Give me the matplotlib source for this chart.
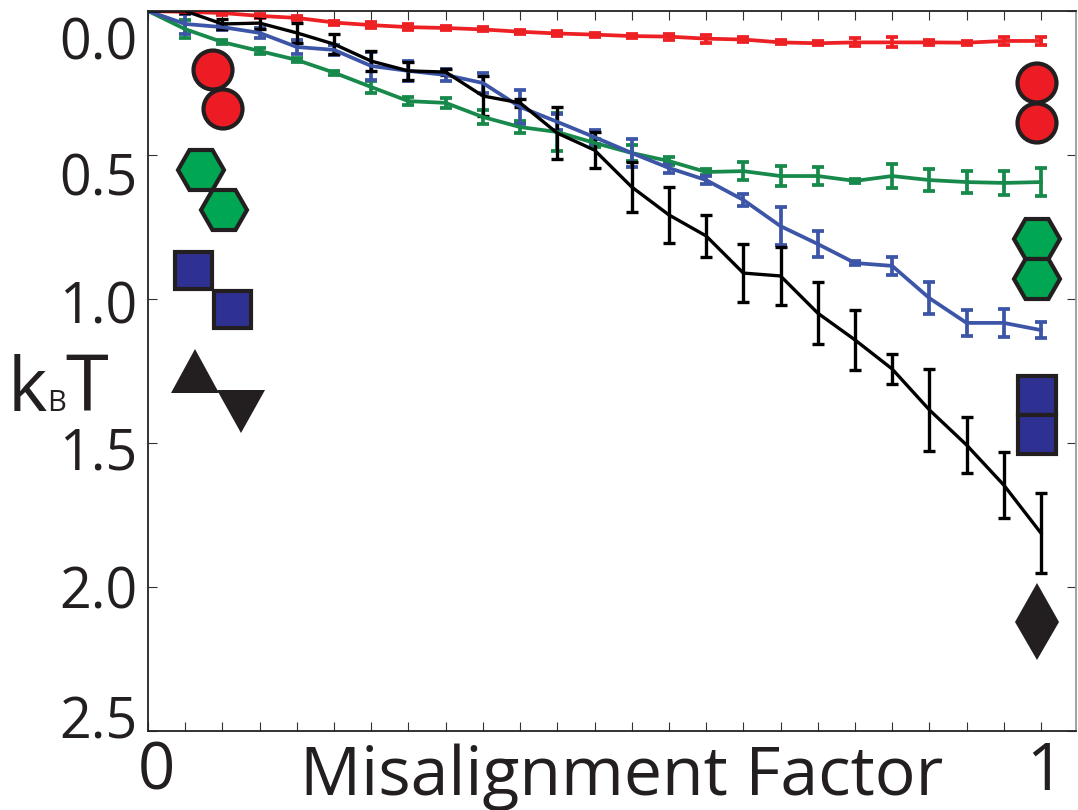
import numpy as np
import matplotlib
matplotlib.use("Agg")
import matplotlib.pyplot as plt
from matplotlib.patches import Circle, Polygon, Rectangle
from matplotlib.transforms import Affine2D, ScaledTranslation

FONT = "Open Sans"
plt.rcParams["font.family"] = FONT
INK = "#231f20"

factor = np.arange(25) / 24
red = [0, .003, .007, .017, .024, .04, .049, .056, .059, .064, .072, .078, .082, .087, .089, .096, .099, .109, .112, .109, .109, .109, .110, .104, .104]
red_err = [0, .007, .007, .007, .007, .007, .01, .01, .007, .007, .007, .01, .007, .007, .01, .014, .007, .007, .007, .014, .017, .01, .007, .014, .014]
green = [0, .063, .108, .139, .170, .214, .264, .313, .319, .368, .403, .420, .458, .493, .521, .559, .556, .573, .573, .590, .573, .587, .594, .597, .594]
green_err = [0, .031, .007, .01, .007, .007, .02, .014, .017, .024, .02, .066, .014, .028, .014, .01, .031, .035, .03, .007, .042, .038, .038, .042, .049]
blue = [0, .045, .056, .076, .125, .135, .191, .208, .222, .25, .333, .385, .438, .493, .545, .587, .656, .747, .809, .875, .885, .997, 1.083, 1.083, 1.108]
blue_err = [0, .035, .01, .017, .024, .017, .049, .035, .021, .035, .059, .028, .024, .049, .017, .014, .021, .066, .045, .007, .031, .056, .045, .049, .028]
black = [0, 0, .045, .042, .076, .115, .174, .208, .212, .295, .319, .424, .483, .611, .708, .781, .91, .92, 1.049, 1.142, 1.243, 1.385, 1.507, 1.646, 1.813]
black_err = [0, .007, .017, .021, .035, .035, .035, .031, .01, .069, .014, .09, .062, .087, .097, .073, .10, .10, .108, .104, .052, .142, .097, .115, .139]

y_ticks = [0.0, 0.5, 1.0, 1.5, 2.0, 2.5]
y_tick_labels = ["0.0", "0.5", "1.0", "1.5", "2.0", "2.5"]
y_label_shift = [-27, -19, -3, -5, 0, 14]  # px, positive = up

W, H = 1078, 810
fig = plt.figure(figsize=(W / 100, H / 100), dpi=100)
ax = fig.add_axes([148 / W, 1 - 731 / H, (1076 - 148) / W, 720 / H])
ax.set_xlim(0, (1076 - 148) / (1041 - 148))
ax.set_ylim(2.5, 0)

for vals, errs, col, lw in [(red, red_err, "#ed2024", 2.7), (green, green_err, "#17894a", 2.7),
                            (blue, blue_err, "#3c55a6", 2.7), (black, black_err, "#000000", 2.4)]:
    ax.errorbar(factor, vals, yerr=errs, color=col, lw=lw, elinewidth=lw,
                capsize=4, capthick=lw, errorevery=(1, 1))

ax.set_xticks(factor, [""] * 25)
ax.set_yticks(y_ticks, y_tick_labels)
ax.tick_params(axis="both", which="major", direction="in", length=6.5, width=0.8,
               color="#333333", top=True, right=True, labelsize=40, labelcolor=INK, pad=7.5)
for lab, s in zip(ax.get_yticklabels(), y_label_shift):
    lab.set_transform(lab.get_transform() + ScaledTranslation(0, s / 100, fig.dpi_scale_trans))
for name, sp in ax.spines.items():
    sp.set_linewidth(1.3)
    sp.set_color("#222222" if name != "right" else "#999999")

pix = Affine2D().scale(1, -1).translate(0, H)  # reference pixels -> display

def add(p):
    p.set_transform(pix)
    p.set_clip_on(False)
    fig.add_artist(p)

for cx, cy in [(213, 70), (223, 109), (1037, 83), (1037, 123)]:
    add(Circle((cx, cy), 19.5, fc="#ed1c24", ec=INK, lw=3))
for cx, cy in [(201, 170), (224, 210), (1037, 239), (1037, 279)]:
    add(Polygon([(cx - 23, cy), (cx - 11.5, cy - 20), (cx + 11.5, cy - 20),
                 (cx + 23, cy), (cx + 11.5, cy + 20), (cx - 11.5, cy + 20)],
                closed=True, fc="#00a651", ec=INK, lw=3))
for x0, y0, w, h in [(175, 252, 37, 37), (214, 291, 37, 37), (1018, 376, 38, 39), (1018, 415, 38, 39)]:
    add(Rectangle((x0, y0), w, h, fc="#2e3192", ec=INK, lw=3))
for tri in [[(171, 393), (219, 393), (195, 349)], [(217, 390), (265, 390), (241, 433)],
            [(1015, 622), (1059, 622), (1037, 583)], [(1015, 622), (1059, 622), (1037, 660)]]:
    add(Polygon(tri, closed=True, fc=INK, ec="none"))

fig.text(156 / W, 1 - 790 / H, "0", fontsize=47, color=INK, ha="center", va="baseline")
fig.text(1045 / W, 1 - 790 / H, "1", fontsize=47, color=INK, ha="center", va="baseline")
fig.text(622 / W, 1 - 795 / H, "Misalignment Factor", fontsize=49, color=INK, ha="center", va="baseline")
fig.text(8 / W, 1 - 411 / H, "k", fontsize=54, color=INK, ha="left", va="baseline")
fig.text(47 / W, 1 - 411 / H, "B", fontsize=21, color=INK, ha="left", va="baseline")
fig.text(65 / W, 1 - 411 / H, "T", fontsize=56, color=INK, ha="left", va="baseline")

fig.savefig("out.png", dpi=100)
